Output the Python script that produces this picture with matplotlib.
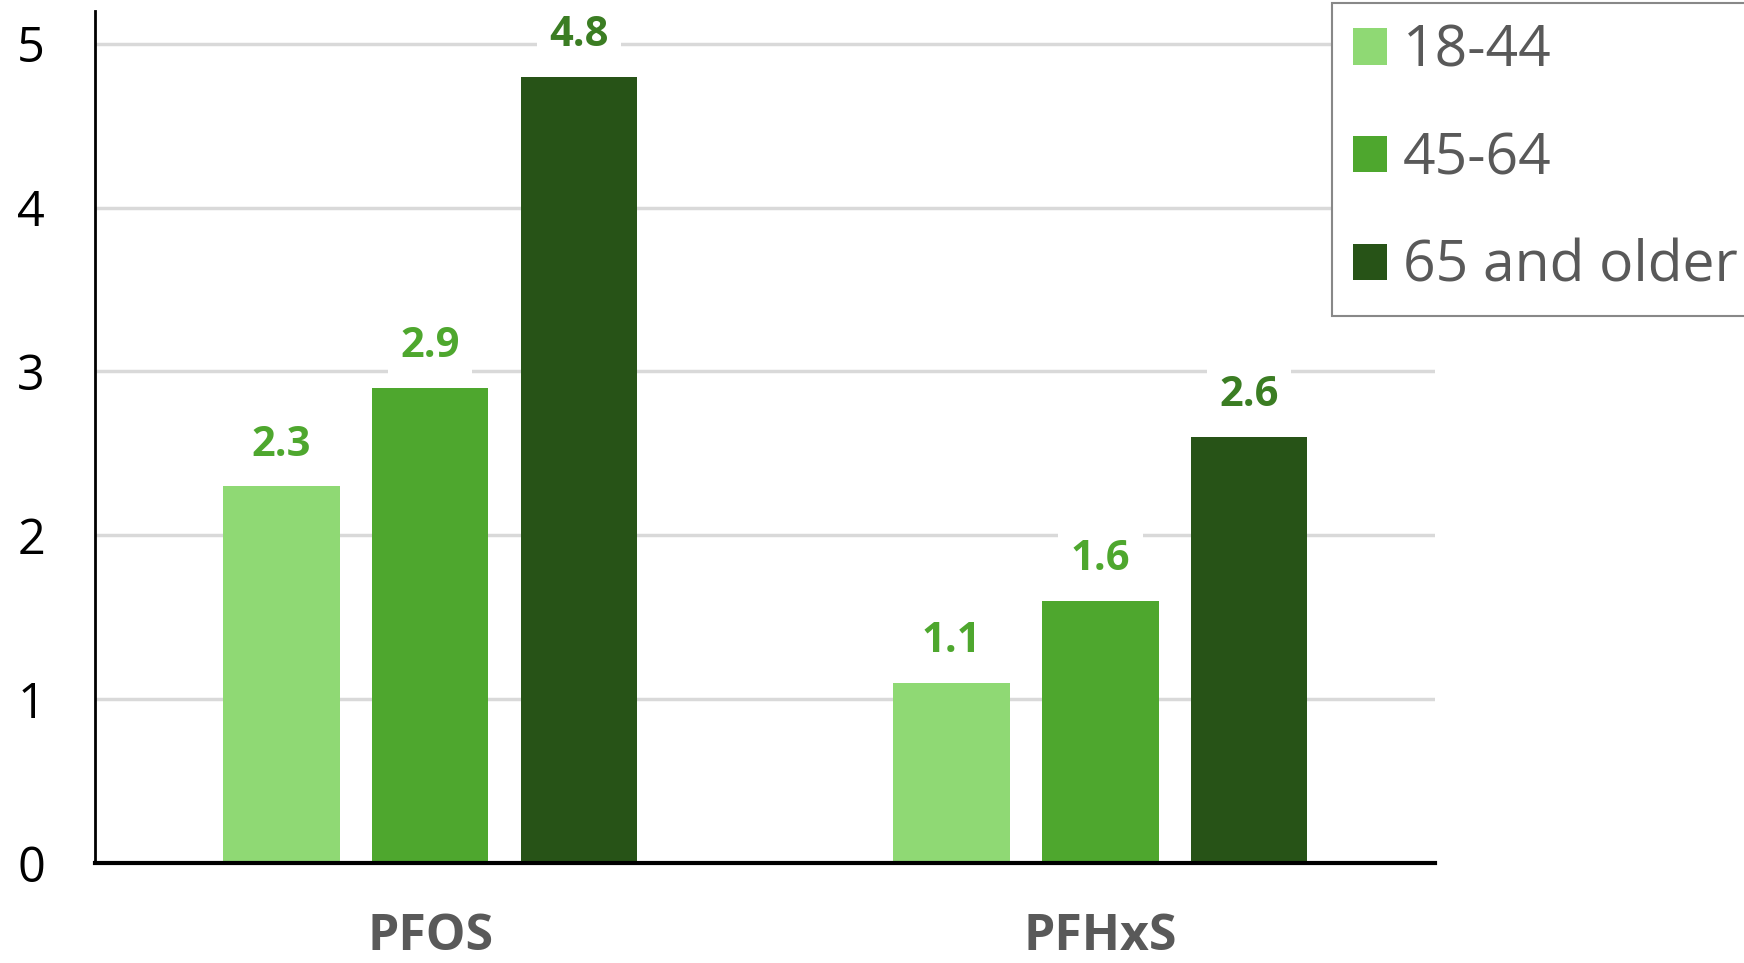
import matplotlib.pyplot as plt
import numpy as np
import matplotlib

matplotlib.rcParams['font.family'] = ['Open Sans', 'DejaVu Sans']

compounds = ['PFOS', 'PFHxS']
age_groups = ['18-44', '45-64', '65 and older']
values = {
    '18-44': [2.3, 1.1],
    '45-64': [2.9, 1.6],
    '65 and older': [4.8, 2.6],
}
colors = ['#8fd974', '#4ea72e', '#275317']
label_colors = ['#4ea72e', '#4ea72e', '#3b7d23']

fig = plt.figure(figsize=(17.44, 9.63), dpi=100)
ax = fig.add_axes([0.0545, 0.1038, 0.823 - 0.0545, 0.9886 - 0.1038])

x = np.arange(len(compounds))
width = 0.174
step = 0.222

for i, grp in enumerate(age_groups):
    pos = x + (i - 1) * step
    ax.bar(pos, values[grp], width=width, color=colors[i], label=grp, zorder=3)
    for px, v in zip(pos, values[grp]):
        ax.annotate('%.1f' % v, (px, v), xytext=(0, 22), textcoords='offset points',
                    ha='center', va='baseline', fontsize=30, fontweight='bold',
                    color=label_colors[i], zorder=4,
                    bbox=dict(boxstyle='square,pad=0.3', fc='white', ec='none'))

ax.set_xlim(-0.5, 1.5)
ax.set_ylim(0, 5.2)
ax.set_yticks([0, 1, 2, 3, 4, 5])
ax.yaxis.grid(True, color='#d9d9d9', linewidth=2.5, zorder=0)
ax.set_axisbelow(True)

ax.spines['right'].set_visible(False)
ax.spines['top'].set_visible(False)
ax.spines['left'].set_linewidth(2)
ax.spines['bottom'].set_linewidth(3)
ax.spines['left'].set_zorder(5)
ax.spines['bottom'].set_zorder(5)

ax.set_xticks(x)
ax.set_xticklabels(compounds, fontsize=36, fontweight='bold', color='#595959')
ax.tick_params(axis='x', length=0, pad=35)
ax.tick_params(axis='y', length=0, pad=36, labelsize=35, labelcolor='black')

legend = fig.legend(loc='upper left', bbox_to_anchor=(1332 / 1744, 1 - 3 / 963),
                    borderaxespad=0, fontsize=41, handlelength=0.6, handleheight=0.6,
                    handletextpad=0.28, labelspacing=0.89, borderpad=0.36,
                    fancybox=False, framealpha=1)
legend.get_frame().set_edgecolor('#888888')
legend.get_frame().set_linewidth(1.5)
for t in legend.get_texts():
    t.set_color('#595959')

fig.savefig('out.png', dpi=100)
